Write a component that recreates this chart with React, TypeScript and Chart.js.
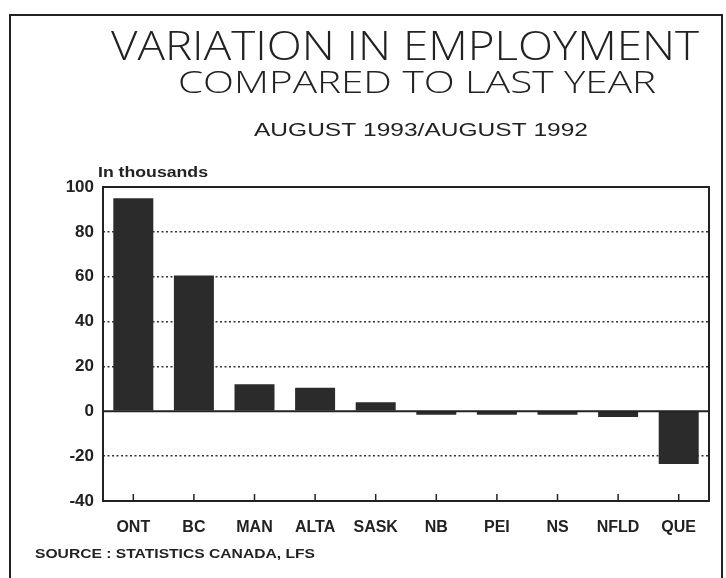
import React, { useEffect, useRef } from "react";
import { Chart, registerables } from "chart.js";

Chart.register(...registerables);

const categories = ["ONT", "BC", "MAN", "ALTA", "SASK", "NB", "PEI", "NS", "NFLD", "QUE"];
const values = [95, 60.5, 12, 10.5, 4, -1.5, -1.5, -1.5, -2.5, -23.5];
const yMin = -40;
const yMax = 100;
const yStep = 20;
const dottedLines = [80, 60, 40, 20, -20];
const titleLines = ["VARIATION IN EMPLOYMENT", "COMPARED TO LAST YEAR", "AUGUST 1993/AUGUST 1992"];
const unitLabel = "In thousands";
const sourceLabel = "SOURCE : STATISTICS CANADA, LFS";

const INK = "#222222";

function drawFit(
  ctx: CanvasRenderingContext2D,
  text: string,
  x: number,
  baseline: number,
  font: string,
  width: number,
  align: "center" | "left" = "center"
) {
  ctx.save();
  ctx.font = font;
  const w = ctx.measureText(text).width;
  ctx.translate(x, baseline);
  ctx.scale(width / w, 1);
  ctx.textAlign = align;
  ctx.textBaseline = "alphabetic";
  ctx.fillStyle = INK;
  ctx.fillText(text, 0, 0);
  ctx.restore();
}

const decorPlugin = {
  id: "decor",
  beforeDraw(chart: any) {
    const ctx = chart.ctx as CanvasRenderingContext2D;
    ctx.save();
    ctx.fillStyle = "#ffffff";
    ctx.fillRect(0, 0, chart.width, chart.height);
    ctx.strokeStyle = INK;
    ctx.lineWidth = 2;
    ctx.beginPath();
    ctx.moveTo(10, 600);
    ctx.lineTo(10, 15);
    ctx.lineTo(722, 15);
    ctx.lineTo(722, 600);
    ctx.stroke();
    ctx.restore();
  },
  afterDatasetsDraw(chart: any) {
    const ctx = chart.ctx as CanvasRenderingContext2D;
    const { left, right, top, bottom } = chart.chartArea;
    const y = chart.scales.y;
    const x = chart.scales.x;
    ctx.save();
    ctx.strokeStyle = INK;
    ctx.lineWidth = 2;
    ctx.strokeRect(left, top, right - left, bottom - top);
    const y0 = y.getPixelForValue(0);
    ctx.beginPath();
    ctx.moveTo(left, y0);
    ctx.lineTo(right, y0);
    ctx.stroke();
    ctx.lineWidth = 1.5;
    for (let i = 0; i < categories.length; i++) {
      const px = x.getPixelForTick(i);
      ctx.beginPath();
      ctx.moveTo(px, bottom);
      ctx.lineTo(px, bottom - 7);
      ctx.stroke();
    }
    ctx.restore();
  },
  afterDraw(chart: any) {
    const ctx = chart.ctx as CanvasRenderingContext2D;
    drawFit(ctx, titleLines[0], 405, 60, '300 40px "Open Sans", "Liberation Sans", sans-serif', 588);
    drawFit(ctx, titleLines[1], 417, 93, '300 31px "Open Sans", "Liberation Sans", sans-serif', 478);
    drawFit(ctx, titleLines[2], 421, 136, '400 19px "Liberation Sans", Arial, sans-serif', 334);
    drawFit(ctx, unitLabel, 98, 177, 'bold 14px "Liberation Sans", Arial, sans-serif', 110, "left");
    drawFit(ctx, sourceLabel, 35, 558, 'bold 13px "Liberation Sans", Arial, sans-serif', 280, "left");
  },
};

export default function App() {
  const ref = useRef<HTMLCanvasElement | null>(null);
  useEffect(() => {
    document.body.style.margin = "0";
    const canvas = ref.current!;
    const chart = new Chart(canvas, {
      type: "bar",
      data: {
        labels: categories,
        datasets: [
          {
            data: values,
            backgroundColor: "#2b2b2b",
            borderWidth: 0,
            barPercentage: 0.66,
            categoryPercentage: 1,
          },
        ],
      },
      options: {
        responsive: false,
        animation: false,
        layout: { padding: { top: 187, right: 17, bottom: 0, left: 0 } },
        plugins: {
          legend: { display: false },
          tooltip: { enabled: false },
          title: { display: false },
        },
        scales: {
          x: {
            grid: { display: false },
            border: { display: false },
            ticks: {
              color: INK,
              padding: 9,
              font: { family: '"Liberation Sans", Arial, sans-serif', size: 16, weight: "bold" },
            },
            afterFit(scale: any) {
              scale.height = 77;
            },
          },
          y: {
            min: yMin,
            max: yMax,
            grid: {
              drawTicks: false,
              color: (c: any) => (c.tick && dottedLines.includes(c.tick.value) ? "#333333" : "rgba(0,0,0,0)"),
              lineWidth: 1.5,
              borderDash: [2, 2.5],
            } as any,
            border: { display: false, dash: [2, 2.5] },
            ticks: {
              stepSize: yStep,
              color: INK,
              padding: 9,
              font: { family: '"Liberation Sans", Arial, sans-serif', size: 17, weight: "bold" },
            },
            afterFit(scale: any) {
              scale.width = 103;
            },
          },
        },
      },
      plugins: [decorPlugin],
    });
    return () => chart.destroy();
  }, []);
  return (
    <div style={{ width: 726, height: 578 }}>
      <canvas ref={ref} width={726} height={578} />
    </div>
  );
}
